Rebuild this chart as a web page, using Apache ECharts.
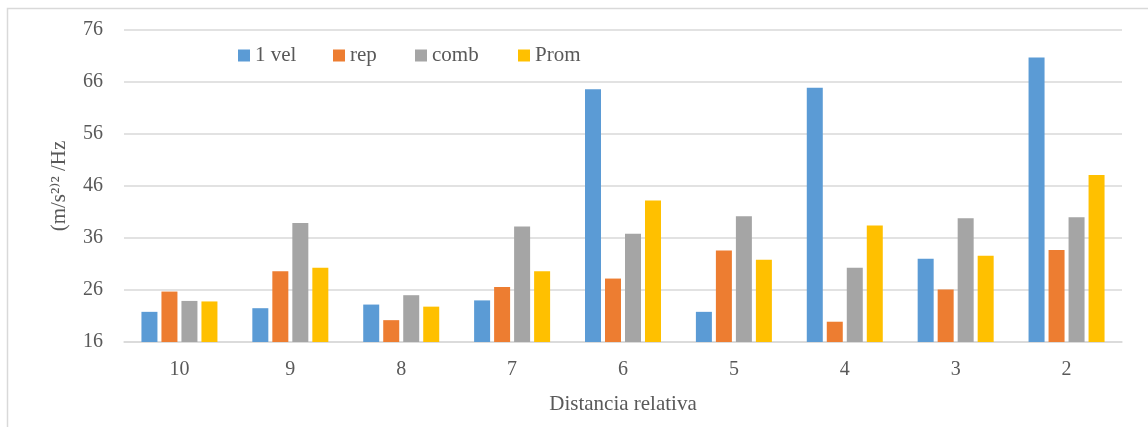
<!DOCTYPE html>
<html>
<head>
<meta charset="utf-8">
<script src="https://cdn.jsdelivr.net/npm/echarts@6/dist/echarts.min.js"></script>
<style>
html,body{margin:0;padding:0;background:#fff;}
#c{width:1148px;height:427px;}
</style>
</head>
<body>
<div id="c"></div>
<script>
const categories = ['10','9','8','7','6','5','4','3','2'];
const vel1 = [21.8, 22.5, 23.2, 24.0, 64.6, 21.8, 64.9, 32.0, 70.7];
const rep  = [25.7, 29.6, 20.2, 26.6, 28.2, 33.6, 19.9, 26.1, 33.7];
const comb = [23.9, 38.9, 25.0, 38.2, 36.8, 40.2, 30.3, 39.8, 40.0];
const prom = [23.8, 30.3, 22.8, 29.6, 43.2, 31.8, 38.4, 32.6, 48.1];
const seriesNames = ['1 vel', 'rep', 'comb', 'Prom'];
const colors = ['#5B9BD5', '#ED7D31', '#A5A5A5', '#FFC000'];
const yTitle = '(m/s\u00B2\u207E\u00B2 /Hz';
const xTitle = 'Distancia relativa';

const FONT = '"Liberation Serif", "DejaVu Serif", serif';
const TXT = '#595959';
const GRID = '#d9d9d9';

const chart = echarts.init(document.getElementById('c'), null, {renderer: 'canvas'});
const legendLefts = [238, 333, 415, 518];
const dataSets = [vel1, rep, comb, prom];

chart.setOption({
  animation: false,
  backgroundColor: '#fff',
  graphic: [{
    type: 'rect', silent: true,
    shape: {x: 7.5, y: 8.5, width: 1160, height: 440},
    style: {fill: 'none', stroke: '#d9d9d9', lineWidth: 1.5}
  }],
  legend: seriesNames.map((n, i) => ({
    data: [n], left: legendLefts[i], top: 45, padding: 0,
    itemWidth: 12, itemHeight: 12, itemGap: 5,
    icon: 'rect',
    textStyle: {fontFamily: FONT, fontSize: 21, color: TXT}
  })),
  grid: {left: 124, right: 26, top: 30, bottom: 85},
  xAxis: {
    type: 'category',
    data: categories,
    axisTick: {show: false},
    axisLine: {lineStyle: {color: GRID, width: 1.5}},
    axisLabel: {fontFamily: FONT, fontSize: 20, color: TXT, margin: 18},
    name: xTitle,
    nameLocation: 'middle',
    nameGap: 52,
    nameTextStyle: {fontFamily: FONT, fontSize: 21, color: TXT}
  },
  yAxis: {
    type: 'value',
    min: 16, max: 76, interval: 10,
    axisLine: {show: false},
    axisTick: {show: false},
    splitLine: {lineStyle: {color: GRID, width: 1.5}},
    axisLabel: {fontFamily: FONT, fontSize: 20, color: TXT, margin: 21},
    name: yTitle,
    nameLocation: 'middle',
    nameGap: 54,
    nameRotate: 90,
    nameTextStyle: {fontFamily: FONT, fontSize: 21, color: TXT}
  },
  series: seriesNames.map((n, i) => ({
    name: n,
    type: 'bar',
    data: dataSets[i],
    barWidth: 16,
    barGap: '25%',
    itemStyle: {color: colors[i]}
  }))
});
</script>
</body>
</html>
